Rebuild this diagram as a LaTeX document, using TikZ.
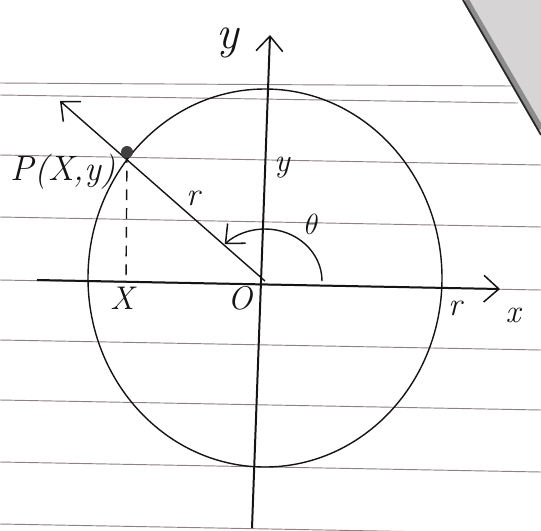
\documentclass[tikz,border=0pt]{standalone}
\usepackage{xcolor}
\definecolor{inkdark}{RGB}{20,20,20}
\definecolor{ruleline}{RGB}{140,130,130}
\definecolor{tablegray}{RGB}{214,212,212}
\usepackage{tikz}
\usetikzlibrary{arrows.meta,calc}

\begin{document}
\begin{tikzpicture}[x=0.3mm,y=0.3mm,
  ink/.style={draw=inkdark, line width=1.7pt},
  thinink/.style={draw=inkdark, line width=1.2pt},
  ruled/.style={draw=ruleline, line width=0.8pt},
  hand/.style={font=\fontsize{28}{28}\selectfont\itshape, text=inkdark, inner sep=0pt},
  barb/.style={-{Straight Barb[length=4.5mm,width=8mm,line width=1.3pt]}}]
  % paper and the table behind its corner
  \fill[white] (-265,-249) rectangle (276,281);
  \useasboundingbox (-265,-249) rectangle (276,281);
  \fill[tablegray] (198,281) -- (276,281) -- (276,146) -- cycle;
  \draw[black!45, line width=5pt] (201,281) -- (276,152);
  \draw[black!85, line width=1.5pt] (198,281) -- (276,146);

  % ruled lines of the paper
  \draw[ruled] (-265,198) -- (246,195);
  \draw[ruled] (-265,186) -- (253,178);
  \foreach \yy in {126,64,1,-59,-119,-181,-243}
    \draw[ruled] (-265,\yy) -- (276,\yy-10);

  % points
  \coordinate (O) at (0,0);
  \coordinate (yb) at (-13,-247);
  \coordinate (yt) at (5,246);
  \coordinate (xl) at (-228,1);
  \coordinate (xr) at (235,-8);
  \coordinate (tip) at (-205,180);
  \coordinate (foot) at (-139,1);
  \coordinate (P) at (-138,129);

  % circle
  \draw[thinink] (0,3) ellipse [x radius=177, y radius=189];

  % axes
  \draw[ink, barb] (yb) -- (yt);
  \draw[ink, barb] (xl) -- (xr);

  % radius and projection
  \draw[thinink, barb] (O) -- (tip);
  \draw[thinink, dashed, dash pattern=on 9pt off 7pt] (P) -- (foot);
  \fill[black!75] (P) circle [radius=6];

  % angle
  \draw[thinink, barb] (57,0) arc [start angle=0, end angle=135, x radius=57, y radius=52];

  % labels
  \node[hand, font=\fontsize{30}{30}\selectfont\itshape] (lblP) at (-202,109) {P(X,y)};
  \node[hand, font=\fontsize{40}{40}\selectfont\itshape] (lblYt) at (-37,238) {y};
  \node[hand] (lblY) at (17,113) {y};
  \node[hand] (lblR) at (-72,83) {r};
  \node[hand, font=\fontsize{32}{32}\selectfont] (lblT) at (47,57) {$\theta$};
  \node[hand] (lblO) at (-25,-17) {O};
  \node[hand] (lblX) at (-143,-17) {X};
  \node[hand] (lblRr) at (190,-27) {r};
  \node[hand] (lblx) at (248,-34) {x};
\end{tikzpicture}
\end{document}
